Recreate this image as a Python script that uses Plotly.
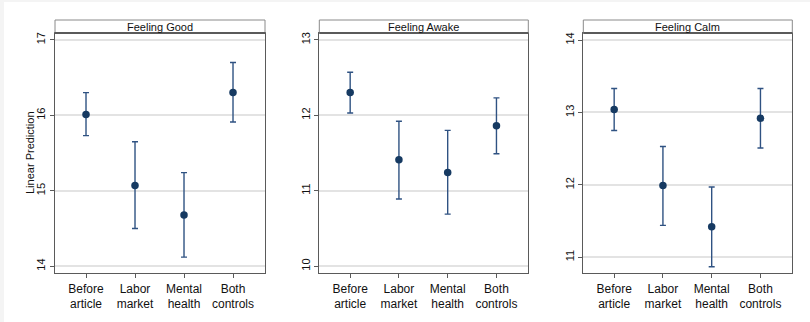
import plotly.graph_objects as go

W, H = 810, 322

categories = ["Before<br>article", "Labor<br>market", "Mental<br>health", "Both<br>controls"]
cat_pos = [1, 2, 3, 4]

titles = ["Feeling Good", "Feeling Awake", "Feeling Calm"]

good_est = [16.01, 15.07, 14.68, 16.30]
good_lo = [15.73, 14.50, 14.12, 15.91]
good_hi = [16.30, 15.65, 15.24, 16.70]

awake_est = [12.30, 11.41, 11.24, 11.86]
awake_lo = [12.03, 10.89, 10.69, 11.49]
awake_hi = [12.57, 11.92, 11.80, 12.23]

calm_est = [13.04, 11.99, 11.42, 12.92]
calm_lo = [12.75, 11.44, 10.87, 12.51]
calm_hi = [13.33, 12.53, 11.97, 13.33]

y_ticks = [[14, 15, 16, 17], [10, 11, 12, 13], [11, 12, 13, 14]]
y_ranges = [[13.91, 17.09], [9.91, 13.09], [10.783, 14.097]]

series = [(good_est, good_lo, good_hi), (awake_est, awake_lo, awake_hi), (calm_est, calm_lo, calm_hi)]

# pixel layout
x_px = [(55, 265), (319.3, 528.3), (583.3, 792.3)]
plot_top_px, plot_bot_px = 33, 273
header_top_px = 20

def fx(px):
    return px / W

def fy(py):
    return 1 - py / H

MARKER = "#163a62"
BAR = "#2f5282"
AXIS = "#5a5a5a"
GRID = "#e3e3e3"
FONT = "Liberation Sans, Arial, Helvetica, sans-serif"

fig = go.Figure()
shapes = []
annotations = []

# faint screenshot frame
shapes.append(dict(type="rect", xref="paper", yref="paper", x0=fx(4), x1=1.0, y0=0, y1=fy(2),
                   fillcolor="white", line=dict(width=0), layer="below"))

for i, (est, lo, hi) in enumerate(series):
    n = "" if i == 0 else str(i + 1)
    err_plus = [h - e for h, e in zip(hi, est)]
    err_minus = [e - l for e, l in zip(est, lo)]
    fig.add_trace(go.Scatter(
        x=cat_pos, y=est, mode="markers",
        marker=dict(color=MARKER, size=7.5),
        error_y=dict(type="data", symmetric=False, array=err_plus, arrayminus=err_minus,
                     color=BAR, thickness=1.4, width=3),
        xaxis="x" + n, yaxis="y" + n, showlegend=False,
    ))
    x0, x1 = x_px[i]
    fig.layout["xaxis" + n] = dict(
        domain=[fx(x0), fx(x1)], range=[0.367, 4.653], anchor="y" + n,
        tickmode="array", tickvals=cat_pos, ticktext=categories,
        showgrid=False, zeroline=False, showline=True, linecolor=AXIS, linewidth=1.3,
        mirror=True, ticks="outside", ticklen=4, tickcolor=AXIS, tickwidth=1,
        tickfont=dict(family=FONT, size=12, color="#111"),
    )
    fig.layout["yaxis" + n] = dict(
        domain=[fy(plot_bot_px), fy(plot_top_px)], range=y_ranges[i], anchor="x" + n,
        tickmode="array", tickvals=y_ticks[i], tickangle=-90,
        showgrid=True, gridcolor=GRID, gridwidth=1.5, zeroline=False,
        showline=True, linecolor=AXIS, linewidth=1.3, mirror=True,
        ticks="outside", ticklen=4, tickcolor=AXIS, tickwidth=1,
        tickfont=dict(family=FONT, size=11, color="#111"),
    )
    # header box
    shapes.append(dict(type="rect", xref="paper", yref="paper",
                       x0=fx(x0), x1=fx(x1), y0=fy(plot_top_px), y1=fy(header_top_px),
                       fillcolor="white", line=dict(color="#8a8a8a", width=1)))
    shapes.append(dict(type="line", xref="paper", yref="paper",
                       x0=fx(x0), x1=fx(x1), y0=fy(plot_top_px), y1=fy(plot_top_px),
                       line=dict(color="#5a5a5a", width=2.2)))
    annotations.append(dict(text=titles[i], xref="paper", yref="paper",
                            x=fx((x0 + x1) / 2), y=fy((header_top_px + plot_top_px) / 2 + 0.5),
                            showarrow=False, xanchor="center", yanchor="middle",
                            font=dict(family=FONT, size=11, color="#111")))

annotations.append(dict(text="Linear Prediction", xref="paper", yref="paper",
                        x=fx(30), y=fy((plot_top_px + plot_bot_px) / 2), textangle=-90,
                        showarrow=False, xanchor="center", yanchor="middle",
                        font=dict(family=FONT, size=11, color="#111")))

fig.update_layout(
    width=W, height=H, margin=dict(l=0, r=0, t=0, b=0),
    paper_bgcolor="#f4f4f4", plot_bgcolor="white",
    shapes=shapes, annotations=annotations,
    font=dict(family=FONT),
)

fig.write_html("out.html", config={"displayModeBar": False},
               post_script="document.body.style.margin='0';document.body.style.overflow='hidden';")
